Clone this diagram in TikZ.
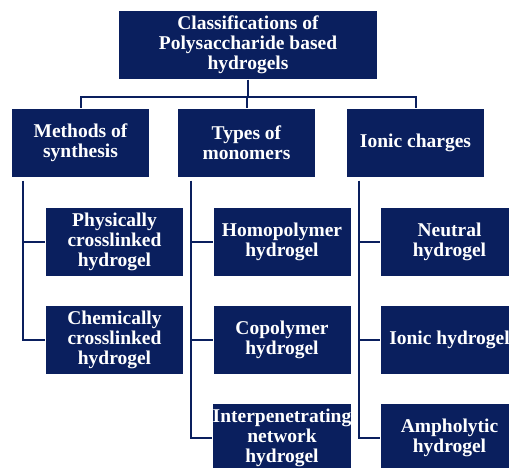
\documentclass[tikz,border=0pt]{standalone}
\usepackage{fontspec}
\setmainfont{Liberation Serif}
\usepackage{tikz}
\definecolor{navy}{RGB}{10,31,94}

\begin{document}
\begin{tikzpicture}[node distance=98pt, line width=2pt, draw=navy,
	box/.style={rectangle,fill=navy,text=white,inner sep=0pt,
	minimum width=137pt,minimum height=68pt,align=center,
	font=\bfseries\fontsize{19.5}{19.8}\selectfont}]

	\useasboundingbox (0pt,0pt) rectangle (509pt,-468pt);
	\clip (0pt,0pt) rectangle (509pt,-468pt);

	\node[box, minimum width=258pt] (top) at (248pt,-45pt) {Classifications of\\Polysaccharide based\\hydrogels};
	\node[box] (types) [below of=top, xshift=-1.5pt] {Types of\\monomers};
	\node[box, node distance=166pt] (methods) [left of=types] {Methods of\\synthesis};
	\node[box, node distance=169pt] (ionic) [right of=types] {Ionic charges};

	\node[box, xshift=34pt, node distance=99pt] (phys) [below of=methods] {Physically\\crosslinked\\hydrogel};
	\node[box] (chem) [below of=phys] {Chemically\\crosslinked\\hydrogel};

	\node[box, xshift=35.5pt, node distance=99pt] (homo) [below of=types] {Homopolymer\\hydrogel};
	\node[box] (copo) [below of=homo] {Copolymer\\hydrogel};
	\node[box] (ipn) [below of=copo] {Interpenetrating\\network\\hydrogel};

	\node[box, xshift=34pt, node distance=99pt] (neutral) [below of=ionic] {Neutral\\hydrogel};
	\node[box] (ionhyd) [below of=neutral] {Ionic hydrogel};
	\node[box] (ampho) [below of=ionhyd] {Ampholytic\\hydrogel};

	\draw[navy] (top.south) -- ++(0,-17pt) -| (methods.north);
	\draw[navy] (top.south) -- ++(0,-17pt) -| (types.north);
	\draw[navy] (top.south) -- ++(0,-17pt) -| (ionic.north);

	\draw[navy] ([xshift=12pt,yshift=-3pt]methods.south west) |- (phys.west);
	\draw[navy] ([xshift=12pt,yshift=-3pt]methods.south west) |- (chem.west);
	\draw[navy] ([xshift=14pt,yshift=-3pt]types.south west) |- (homo.west);
	\draw[navy] ([xshift=14pt,yshift=-3pt]types.south west) |- (copo.west);
	\draw[navy] ([xshift=14pt,yshift=-3pt]types.south west) |- (ipn.west);
	\draw[navy] ([xshift=13pt,yshift=-3pt]ionic.south west) |- (neutral.west);
	\draw[navy] ([xshift=13pt,yshift=-3pt]ionic.south west) |- (ionhyd.west);
	\draw[navy] ([xshift=13pt,yshift=-3pt]ionic.south west) |- (ampho.west);
\end{tikzpicture}
\end{document}
